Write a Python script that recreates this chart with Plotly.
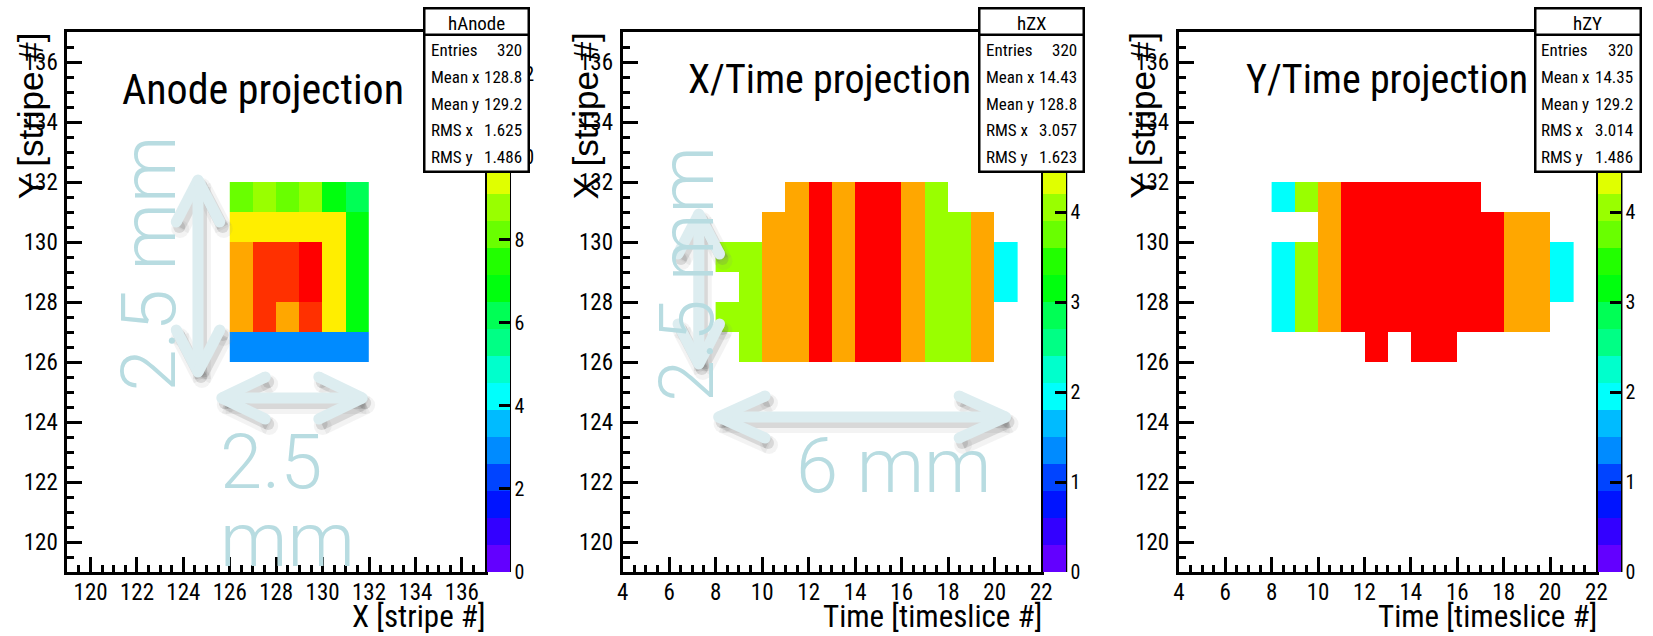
import colorsys
import plotly.graph_objects as go

W, H = 1653, 636

# ---------------- data ----------------
# Anode projection: X stripe bins (columns) x Y stripe bins (rows)
anode_x_bins = [126, 127, 128, 129, 130, 131]
anode_y_bins = [126, 127, 128, 129, 130, 131]
anode_counts = [
    [3, 3, 3, 3, 3, 3],
    [11, 12, 11, 12, 10, 7],
    [11, 12, 12, 13, 10, 7],
    [11, 12, 12, 13, 10, 7],
    [10, 10, 10, 10, 10, 7],
    [8, 9, 8, 9, 7, 6],
]

# X/Time projection: time slice bins (columns) x X stripe bins (rows)
time_bins = [8, 9, 10, 11, 12, 13, 14, 15, 16, 17, 18, 19, 20]
zx_stripe_bins = [126, 127, 128, 129, 130, 131]
zx_counts = [
    [None, 4, 5, 5, 6, 5, 6, 6, 5, 4, 4, 5, None],
    [4, 4, 5, 5, 6, 5, 6, 6, 5, 4, 4, 5, None],
    [None, 4, 5, 5, 6, 5, 6, 6, 5, 4, 4, 5, 2],
    [4, 4, 5, 5, 6, 5, 6, 6, 5, 4, 4, 5, 2],
    [None, None, 5, 5, 6, 5, 6, 6, 5, 4, 4, 5, None],
    [None, None, None, 5, 6, 5, 6, 6, 5, 4, None, None, None],
]

# Y/Time projection: time slice bins (columns) x Y stripe bins (rows)
zy_stripe_bins = [126, 127, 128, 129, 130, 131]
zy_counts = [
    [None, None, None, None, 6, None, 6, 6, None, None, None, None, None],
    [2, 4, 5, 6, 6, 6, 6, 6, 6, 6, 5, 5, None],
    [2, 4, 5, 6, 6, 6, 6, 6, 6, 6, 5, 5, 2],
    [2, 4, 5, 6, 6, 6, 6, 6, 6, 6, 5, 5, 2],
    [None, None, 5, 6, 6, 6, 6, 6, 6, 6, 5, 5, None],
    [2, 4, 5, 6, 6, 6, 6, 6, 6, None, None, None, None],
]

# Palette maxima
z_max = [13, 6, 6]
z_tick_step = [2, 1, 1]

# Statistics boxes
stat_names = ["hAnode", "hZX", "hZY"]
stat_labels = ["Entries", "Mean x", "Mean y", "RMS x", "RMS y"]
stat_values = [
    ["320", "128.8", "129.2", "1.625", "1.486"],
    ["320", "14.43", "128.8", "3.057", "1.623"],
    ["320", "14.35", "129.2", "3.014", "1.486"],
]

# Titles / axis labels
panel_titles = ["Anode projection", "X/Time projection", "Y/Time projection"]
x_titles = ["X [stripe #]", "Time [timeslice #]", "Time [timeslice #]"]
y_titles = ["Y [stripe #]", "X [stripe #]", "Y [stripe #]"]
x_ranges = [[119, 137], [4, 22], [4, 22]]
y_range = [119, 137]

# ---------------- styling ----------------
ROOT_FONT = ("Roboto Condensed, Noto Sans Condensed, DejaVu Sans Condensed, "
             "Liberation Sans Narrow, Arial Narrow, Liberation Sans, Arial, sans-serif")
ROT_FONT = "Liberation Sans, Arial, sans-serif"
NOTE_FONT = "Roboto, Open Sans, Lato, sans-serif"
NOTE_TEXT = "#b8dce1"
NOTE_ARROW = "#ddedf0"

FRAME_TOP, FRAME_BOTTOM = 32, 572
frames = [(62, 484), (623, 1046), (1185, 1607)]
stat_boxes = [(423, 528), (984, 1089), (1545, 1651)]
STAT_TOP, STAT_SEP, STAT_BOTTOM = 9, 35, 172


def px(x):
    return x / W


def py(y):
    return 1 - y / H


# ROOT "pretty" palette (hue scan 280 -> 0) sampled on 20 contour levels
def pretty_colour(i):
    hue = 280 - (i + 1) * (280 / 50)
    r, g, b = colorsys.hls_to_rgb(hue / 360.0, 0.5, 1.0)
    return "rgb(%d,%d,%d)" % (round(r * 255), round(g * 255), round(b * 255))


N_LEVELS = 20
level_colours = [pretty_colour(int((j + 0.99) * 50 / N_LEVELS)) for j in range(N_LEVELS)]
colorscale = []
for j, c in enumerate(level_colours):
    colorscale.append([j / N_LEVELS, c])
    colorscale.append([(j + 1) / N_LEVELS, c])


def edges(bins):
    return list(bins) + [bins[-1] + 1]


fig = go.Figure()

panel_data = [
    (anode_x_bins, anode_y_bins, anode_counts),
    (time_bins, zx_stripe_bins, zx_counts),
    (time_bins, zy_stripe_bins, zy_counts),
]

for k, (xb, yb, z) in enumerate(panel_data):
    left, right = frames[k]
    suffix = "" if k == 0 else str(k + 1)
    fig.add_trace(go.Heatmap(
        x=edges(xb), y=edges(yb), z=z,
        zmin=0, zmax=z_max[k],
        colorscale=colorscale,
        xaxis="x" + suffix, yaxis="y" + suffix,
        hoverongaps=False,
        colorbar=dict(
            x=px(right + 2), xanchor="left", xpad=0,
            y=py(FRAME_BOTTOM), yanchor="bottom", ypad=0,
            len=(FRAME_BOTTOM - FRAME_TOP) / H, lenmode="fraction",
            thickness=23, thicknessmode="pixels",
            outlinewidth=0,
            ticks="inside", ticklen=11, tickwidth=2.5, tickcolor="black",
            tick0=0, dtick=z_tick_step[k],
            tickfont=dict(family=ROOT_FONT, size=20, color="black"),
        ),
    ))

    axis_common = dict(
        showgrid=False, zeroline=False,
        showline=True, linecolor="black", linewidth=3, mirror=True,
        ticks="inside", ticklen=15, tickwidth=2.5, tickcolor="black",
        tickfont=dict(family=ROOT_FONT, size=23, color="black"),
        minor=dict(ticks="inside", ticklen=7, tickwidth=2.5, tickcolor="black",
                   dtick=0.5, showgrid=False),
        tick0=0, dtick=2, fixedrange=True,
    )
    fig.update_layout(**{
        "xaxis" + suffix: dict(axis_common, domain=[px(left), px(right)],
                               range=x_ranges[k], anchor="y" + suffix,
                               ticklabelstandoff=-3),
        "yaxis" + suffix: dict(axis_common, domain=[py(FRAME_BOTTOM), py(FRAME_TOP)],
                               range=y_range, anchor="x" + suffix,
                               ticklabelstandoff=2),
    })

annotations = []
shapes = []

for k in range(3):
    left, right = frames[k]
    # palette axis line
    shapes.append(dict(type="line", xref="paper", yref="paper",
                       x0=px(right + 25), x1=px(right + 25),
                       y0=py(FRAME_TOP), y1=py(FRAME_BOTTOM),
                       line=dict(color="black", width=2.5)))
    # axis titles
    annotations.append(dict(text=x_titles[k], xref="paper", yref="paper",
                            x=px(right + 3), y=py(616), xanchor="right", yanchor="middle",
                            showarrow=False,
                            font=dict(family=ROOT_FONT, size=31, color="black")))
    annotations.append(dict(text=y_titles[k], xref="paper", yref="paper",
                            x=px(left - 37), y=py(FRAME_TOP - 2), xanchor="center",
                            yanchor="top", textangle=-90, showarrow=False,
                            font=dict(family=ROT_FONT, size=35, color="black")))

# panel titles
title_pos = [(260, 89), (832, 80), (1395, 80)]
title_size = [42, 40, 40]
for k, (tx, ty) in enumerate(title_pos):
    annotations.append(dict(text=panel_titles[k], xref="paper", yref="paper",
                            x=px(tx), y=py(ty), xanchor="center", yanchor="middle",
                            showarrow=False,
                            font=dict(family=ROOT_FONT, size=title_size[k], color="black")))

# ---------------- annotation notes (arrows + lengths) ----------------
def arrow_segments(x0, y0, x1, y1, back, side):
    dx, dy = x1 - x0, y1 - y0
    n = (dx * dx + dy * dy) ** 0.5
    ux, uy = dx / n, dy / n
    vx, vy = -uy, ux
    segs = [((x0, y0), (x1, y1))]
    for (tx, ty), s in (((x0, y0), 1), ((x1, y1), -1)):
        for sgn in (1, -1):
            segs.append(((tx, ty), (tx + s * back * ux + sgn * side * vx,
                                    ty + s * back * uy + sgn * side * vy)))
    return segs


def add_arrow(x0, y0, x1, y1, back, side):
    segs = arrow_segments(x0, y0, x1, y1, back, side)
    layers = [((4, 7), "rgba(140,140,140,0.10)", 18),
              ((3, 5), "rgba(110,110,110,0.20)", 12),
              ((0, 0), NOTE_ARROW, 11)]
    for (ox, oy), colour, width in layers:
        for (a, b) in segs:
            shapes.append(dict(type="line", xref="paper", yref="paper",
                               x0=px(a[0] + ox), y0=py(a[1] + oy),
                               x1=px(b[0] + ox), y1=py(b[1] + oy),
                               line=dict(color=colour, width=width)))
        r = width / 2
        pts = {s[0] for s in segs} | {s[1] for s in segs}
        for (cx, cy) in pts:
            shapes.append(dict(type="circle", xref="paper", yref="paper",
                               x0=px(cx + ox - r), x1=px(cx + ox + r),
                               y0=py(cy + oy - r), y1=py(cy + oy + r),
                               fillcolor=colour, line=dict(width=0)))


add_arrow(194, 180, 194, 372, 42, 22)
add_arrow(218, 398, 360, 398, 44, 21)
add_arrow(700, 214, 700, 364, 40, 21)
add_arrow(720, 417, 1010, 417, 47, 21)

note_font = dict(family=NOTE_FONT, size=76, color=NOTE_TEXT, weight=300)
annotations += [
    dict(text="2.5 mm", x=px(144), y=py(264), textangle=-90),
    dict(text="2.5", x=px(214), y=py(462), xanchor="left"),
    dict(text="mm", x=px(214), y=py(540), xanchor="left"),
    dict(text="2.5 mm", x=px(688), y=py(274), textangle=-90),
    dict(text="6 mm", x=px(897), y=py(466)),
]
for a in annotations[-5:]:
    a.update(xref="paper", yref="paper", showarrow=False, font=note_font,
             yanchor="middle")
    a.setdefault("xanchor", "center")

# ---------------- statistics boxes ----------------
for k, (bx0, bx1) in enumerate(stat_boxes):
    cx = (bx0 + bx1) / 2
    annotations.append(dict(text=" ", xref="paper", yref="paper",
                            x=px(cx), y=py((STAT_TOP + STAT_BOTTOM) / 2),
                            xanchor="center", yanchor="middle",
                            width=bx1 - bx0 - 3, height=STAT_BOTTOM - STAT_TOP - 3,
                            bgcolor="white", bordercolor="black", borderwidth=2.5,
                            borderpad=0, showarrow=False))
    annotations.append(dict(text=" ", xref="paper", yref="paper",
                            x=px(cx), y=py((STAT_TOP + STAT_SEP) / 2),
                            xanchor="center", yanchor="middle",
                            width=bx1 - bx0 - 3, height=STAT_SEP - STAT_TOP - 2,
                            bgcolor="white", bordercolor="black", borderwidth=2.5,
                            borderpad=0, showarrow=False))
    annotations.append(dict(text=stat_names[k], xref="paper", yref="paper",
                            x=px(cx), y=py(23), xanchor="center", yanchor="middle",
                            showarrow=False,
                            font=dict(family=ROOT_FONT, size=19, color="black")))
    for r, (lab, val) in enumerate(zip(stat_labels, stat_values[k])):
        yy = 50 + r * 26.8
        annotations.append(dict(text=lab, xref="paper", yref="paper",
                                x=px(bx0 + 4), y=py(yy), xanchor="left", yanchor="middle",
                                showarrow=False,
                                font=dict(family=ROOT_FONT, size=17, color="black")))
        annotations.append(dict(text=val, xref="paper", yref="paper",
                                x=px(bx1 - 5), y=py(yy), xanchor="right", yanchor="middle",
                                showarrow=False,
                                font=dict(family=ROOT_FONT, size=17, color="black")))

fig.update_layout(
    width=W, height=H, autosize=False,
    margin=dict(l=0, r=0, t=0, b=0, pad=0),
    paper_bgcolor="white", plot_bgcolor="white",
    showlegend=False,
    shapes=shapes, annotations=annotations,
)

fig.write_html("out.html")
